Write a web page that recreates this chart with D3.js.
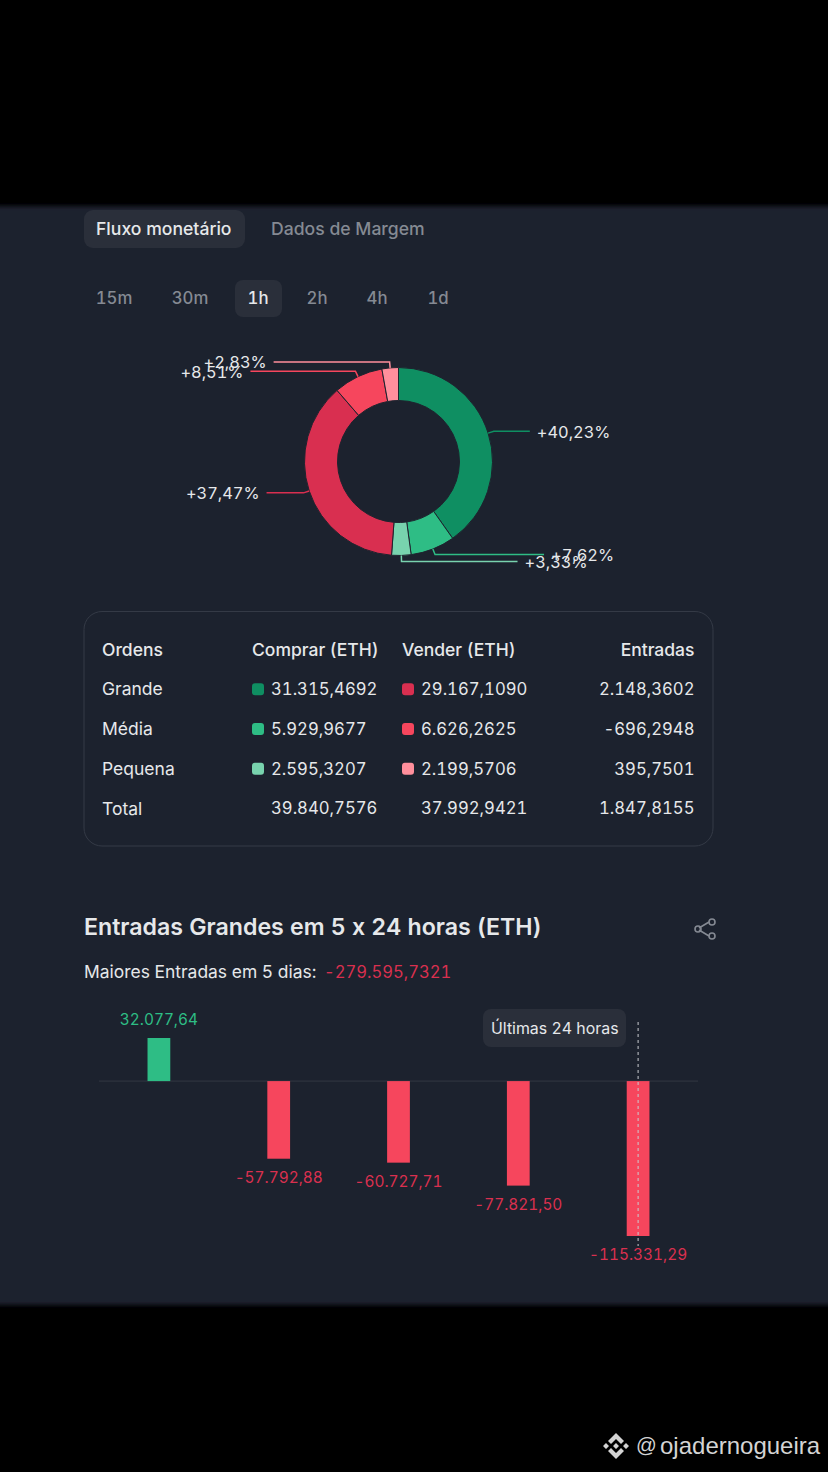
<!DOCTYPE html>
<html>
<head>
<meta charset="utf-8">
<script src="https://cdn.jsdelivr.net/npm/d3@7"></script>
<style>
  html, body { margin: 0; padding: 0; background: #000; }
  svg { display: block; }
  text { font-family: Inter, "Noto Sans", sans-serif; font-feature-settings: "calt" 0, "tnum" 1; }
</style>
</head>
<body>
<svg id="chart" width="828" height="1472"></svg>
<script>
// donut
const sliceNames = ['Compra grande', 'Compra média', 'Compra pequena', 'Venda grande', 'Venda média', 'Venda pequena']
const sliceValues = [40.23, 7.62, 3.33, 37.47, 8.51, 2.83]
const sliceLabels = ['+40,23%', '+7,62%', '+3,33%', '+37,47%', '+8,51%', '+2,83%']
const sliceColors = ['#0f8f62', '#2ebd85', '#78d3ae', '#d92f50', '#f6465d', '#ff8f9c']
const leaderLengths = [36, 109, 116, 37, 105, 116]

// table
const tableHeader = ['Ordens', 'Comprar (ETH)', 'Vender (ETH)', 'Entradas']
const rowNames = ['Grande', 'Média', 'Pequena', 'Total']
const buyValues = ['31.315,4692', '5.929,9677', '2.595,3207', '39.840,7576']
const sellValues = ['29.167,1090', '6.626,2625', '2.199,5706', '37.992,9421']
const inflowValues = ['2.148,3602', '-696,2948', '395,7501', '1.847,8155']

// bars
const dayNames = ['Dia 1', 'Dia 2', 'Dia 3', 'Dia 4', 'Dia 5']
const dayValues = [32077.64, -57792.88, -60727.71, -77821.50, -115331.29]
const dayLabels = ['32.077,64', '-57.792,88', '-60.727,71', '-77.821,50', '-115.331,29']

const timeTabs = ['15m', '30m', '1h', '2h', '4h', '1d']
const timeTabX = [114, 190, 258, 317, 377, 438]

const bg = '#1e232e'
const chip = '#2a2f3a'
const white = '#e6e8ea'
const grey = '#858a93'
const green = '#2ebd85'
const red = '#d9304f'

const svg = d3.select('#chart')

function label(g, x, y, str, size, fill, anchor, weight) {
  return g.append('text')
    .attr('x', x)
    .attr('y', y)
    .attr('dy', '0.35em')
    .attr('font-size', size)
    .attr('fill', fill)
    .attr('text-anchor', anchor || 'start')
    .attr('font-weight', weight || 400)
    .text(str)
}

// panel
svg.append('defs').append('filter').attr('id', 'soft')
  .append('feGaussianBlur').attr('stdDeviation', 2)
svg.append('rect').attr('x', -10).attr('y', 206).attr('width', 848).attr('height', 1099)
  .attr('fill', bg).attr('filter', 'url(#soft)')

// tabs
const tabs = svg.append('g')
tabs.append('rect').attr('x', 84).attr('y', 210).attr('width', 161).attr('height', 38).attr('rx', 9).attr('fill', chip)
label(tabs, 96, 229, 'Fluxo monetário', 17.6, white, 'start', 500)
label(tabs, 271, 229, 'Dados de Margem', 17.6, grey, 'start', 500)
tabs.append('rect').attr('x', 235).attr('y', 280).attr('width', 47).attr('height', 37).attr('rx', 8).attr('fill', chip)
timeTabs.forEach((t, i) => {
  label(tabs, timeTabX[i], 298.5, t, 16.8, t === '1h' ? white : grey, 'middle', 500)
})

// donut
const cx = 398.5, cy = 461.5, outer = 94, inner = 61
const donut = svg.append('g').attr('transform', `translate(${cx},${cy})`)
const pie = d3.pie().sort(null).value(d => d)(sliceValues)
const arc = d3.arc().innerRadius(inner).outerRadius(outer)

donut.selectAll('path.slice')
  .data(pie)
  .enter().append('path')
  .attr('class', 'slice')
  .attr('d', arc)
  .attr('fill', (d, i) => sliceColors[i])
  .attr('stroke', bg)
  .attr('stroke-width', 1)

pie.forEach((d, i) => {
  const a = (d.startAngle + d.endAngle) / 2
  const side = Math.sin(a) >= 0 ? 1 : -1
  const p0 = [Math.sin(a) * outer, -Math.cos(a) * outer]
  const p1 = [Math.sin(a) * (outer + 6), -Math.cos(a) * (outer + 6)]
  const p2 = [p1[0] + side * leaderLengths[i], p1[1]]
  donut.append('path')
    .attr('d', d3.line()([p0, p1, p2]))
    .attr('fill', 'none')
    .attr('stroke', sliceColors[i])
    .attr('stroke-width', 1.5)
  label(donut, p2[0] + side * 7, p2[1] + 0.5, sliceLabels[i], 16.4, white, side > 0 ? 'start' : 'end')
})

// table
const table = svg.append('g')
table.append('rect').attr('x', 84).attr('y', 611.5).attr('width', 629).attr('height', 234.5).attr('rx', 18)
  .attr('fill', 'none').attr('stroke', '#343a46').attr('stroke-width', 1)
const rowY = d3.scalePoint().domain(['head'].concat(rowNames)).range([650, 809])
label(table, 102, rowY('head'), tableHeader[0], 17.5, white, 'start', 500)
label(table, 252, rowY('head'), tableHeader[1], 17.5, white, 'start', 500)
label(table, 402, rowY('head'), tableHeader[2], 17.5, white, 'start', 500)
label(table, 694.5, rowY('head'), tableHeader[3], 17.5, white, 'end', 500)
rowNames.forEach((name, i) => {
  const y = rowY(name)
  label(table, 102, y - 0.5, name, 17.5, white)
  label(table, 271, y - 0.5, buyValues[i], 16.7, white)
  label(table, 421, y - 0.5, sellValues[i], 16.7, white)
  label(table, 694.5, y - 0.5, inflowValues[i], 16.7, white, 'end')
  if (i < 3) {
    table.append('rect').attr('x', 252).attr('y', y - 6.5).attr('width', 12).attr('height', 12).attr('rx', 3).attr('fill', sliceColors[i])
    table.append('rect').attr('x', 402).attr('y', y - 6.5).attr('width', 12).attr('height', 12).attr('rx', 3).attr('fill', sliceColors[i + 3])
  }
})

// heading
const head = svg.append('g')
label(head, 84, 927, 'Entradas Grandes em 5 x 24 horas (ETH)', 23.15, white, 'start', 600)
label(head, 84, 972, 'Maiores Entradas em 5 dias:', 17.45, white)
label(head, 324, 972, '-279.595,7321', 16.6, red)

// share icon
const share = svg.append('g').attr('transform', 'translate(705.5,929)')
  .attr('fill', 'none').attr('stroke', grey).attr('stroke-width', 1.6)
share.append('path').attr('d', 'M-6.5,-1 L3.5,-7 M-6.5,1 L3.5,7')
share.append('circle').attr('cx', -7.5).attr('cy', 0).attr('r', 3)
share.append('circle').attr('cx', 6.5).attr('cy', -7).attr('r', 3)
share.append('circle').attr('cx', 6.5).attr('cy', 7).attr('r', 3)

// bars
const x = d3.scaleBand().domain(dayNames).range([99, 698]).paddingInner(0.81).paddingOuter(0.405)
const y = d3.scaleLinear().domain([d3.min(dayValues), d3.max(dayValues)]).range([1236, 1038])
const bars = svg.append('g')

bars.append('line').attr('x1', 99).attr('x2', 698).attr('y1', y(0)).attr('y2', y(0))
  .attr('stroke', '#333843').attr('stroke-width', 1)

bars.selectAll('rect.bar')
  .data(dayValues)
  .enter().append('rect')
  .attr('class', 'bar')
  .attr('x', (d, i) => x(dayNames[i]))
  .attr('y', d => y(Math.max(d, 0)))
  .attr('width', x.bandwidth())
  .attr('height', d => Math.abs(y(d) - y(0)))
  .attr('fill', d => d >= 0 ? green : '#f6465d')

dayValues.forEach((d, i) => {
  const c = x(dayNames[i]) + x.bandwidth() / 2
  label(bars, c, d >= 0 ? y(d) - 18 : y(d) + 19, dayLabels[i], 15.4, d >= 0 ? green : red, 'middle')
})

const lastX = x(dayNames[4]) + x.bandwidth() / 2
bars.append('line').attr('x1', lastX).attr('x2', lastX).attr('y1', 1022).attr('y2', 1246)
  .attr('stroke', '#c9ccd1').attr('stroke-width', 1).attr('stroke-dasharray', '3 3')

bars.append('rect').attr('x', 483).attr('y', 1009).attr('width', 143).attr('height', 38).attr('rx', 8).attr('fill', chip)
label(bars, 491, 1028, 'Últimas 24 horas', 15.9, white)

// watermark
const mark = svg.append('g').attr('transform', 'translate(616,1446)').attr('fill', '#d4d4d4')
mark.append('path').attr('d', 'M0,-13 L8,-5 L5,-2 L0,-7 L-5,-2 L-8,-5 Z M0,13 L8,5 L5,2 L0,7 L-5,2 L-8,5 Z M0,-3 L3,0 L0,3 L-3,0 Z M-10,-3 L-7,0 L-10,3 L-13,0 Z M10,-3 L13,0 L10,3 L7,0 Z')
svg.append('text').attr('x', 636).attr('y', 1445).attr('dy', '0.35em')
  .attr('font-size', 20.5).attr('fill', '#d4d4d4')
  .style('font-family', '"Liberation Sans", sans-serif')
  .text('@')
svg.append('text').attr('x', 660).attr('y', 1446).attr('dy', '0.35em')
  .attr('font-size', 24).attr('fill', '#d4d4d4')
  .style('font-family', '"Liberation Sans", sans-serif')
  .text('ojadernogueira')
</script>
</body>
</html>
